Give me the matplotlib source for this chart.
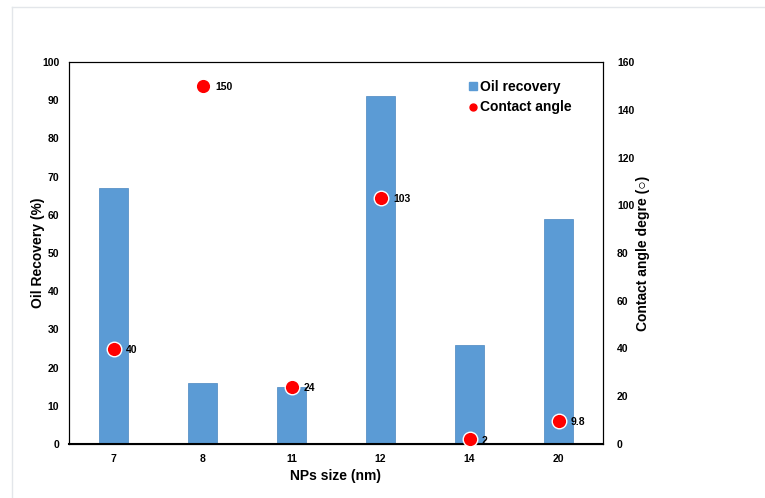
import numpy as np
import matplotlib.pyplot as plt
from matplotlib.lines import Line2D

sizes = ['7', '8', '11', '12', '14', '20']
oil_recovery = [67, 16, 15, 91, 26, 59]
contact_angle = [40, 150, 24, 103, 2, 9.8]
angle_labels = ['40', '150', '24', '103', '2', '9.8']

plt.rcParams['font.family'] = ['Liberation Sans', 'DejaVu Sans']

fig = plt.figure(figsize=(7.65, 4.98), dpi=100)
# faint outer frame (top and left edges visible)
fig.add_artist(Line2D([12/765, 12/765], [0, 1-7/498], color='#e3e6ea', lw=1))
fig.add_artist(Line2D([12/765, 1], [1-7/498, 1-7/498], color='#e3e6ea', lw=1))

ax1 = fig.add_axes([69/765, 54/498, 534/765, 382/498])
x = np.arange(len(sizes))
bars = ax1.bar(x, oil_recovery, width=0.32, color='#5b9bd5', edgecolor='#4a86c0', lw=0.5,
               label='Oil recovery', zorder=2)
ax1.set_xlim(-0.5, len(sizes)-0.5)
ax1.set_ylim(0, 100)
ax1.set_yticks(np.arange(0, 101, 10))
ax1.set_xticks(x)
ax1.set_xticklabels(sizes)
ax1.tick_params(axis='both', length=0, labelsize=7.5, pad=7)
for lab in ax1.get_xticklabels() + ax1.get_yticklabels():
    lab.set_fontweight('bold')
ax1.set_xlabel('NPs size (nm)', fontsize=10, fontweight='bold', labelpad=4)
ax1.set_ylabel('Oil Recovery (%)', fontsize=10, fontweight='bold', labelpad=-2)

ax2 = ax1.twinx()
ax2.scatter(x, contact_angle, s=110, color='#ff0000', edgecolor='white', lw=1,
            label='Contact angle', zorder=3, clip_on=False)
for xi, yi, lab in zip(x, contact_angle, angle_labels):
    ax2.annotate(lab, (xi, yi), xytext=(9, -1), textcoords='offset points',
                 fontsize=7.5, fontweight='bold', va='center', ha='left')
ax2.set_ylim(0, 160)
ax2.set_yticks(np.arange(0, 161, 20))
ax2.tick_params(axis='y', length=0, labelsize=7.5, pad=10)
for lab in ax2.get_yticklabels():
    lab.set_fontweight('bold')
ax2.set_ylabel('Contact angle degre (\u25cb)', fontsize=10, fontweight='bold', labelpad=1.5)

for ax in (ax1, ax2):
    for sp in ax.spines.values():
        sp.set_linewidth(0.8)
ax1.spines['bottom'].set_linewidth(1.5)

handles = [Line2D([], [], marker='s', ls='', color='#5b9bd5', markersize=6),
           Line2D([], [], marker='o', ls='', color='#ff0000', markersize=5)]
leg = ax2.legend(handles, ['Oil recovery', 'Contact angle'], loc='upper left',
                 bbox_to_anchor=(0.72, 0.985), frameon=False, handletextpad=0.0,
                 handlelength=1.0, labelspacing=0.45,
                 prop={'weight': 'bold', 'size': 10})

fig.savefig('out.png', dpi=100)
